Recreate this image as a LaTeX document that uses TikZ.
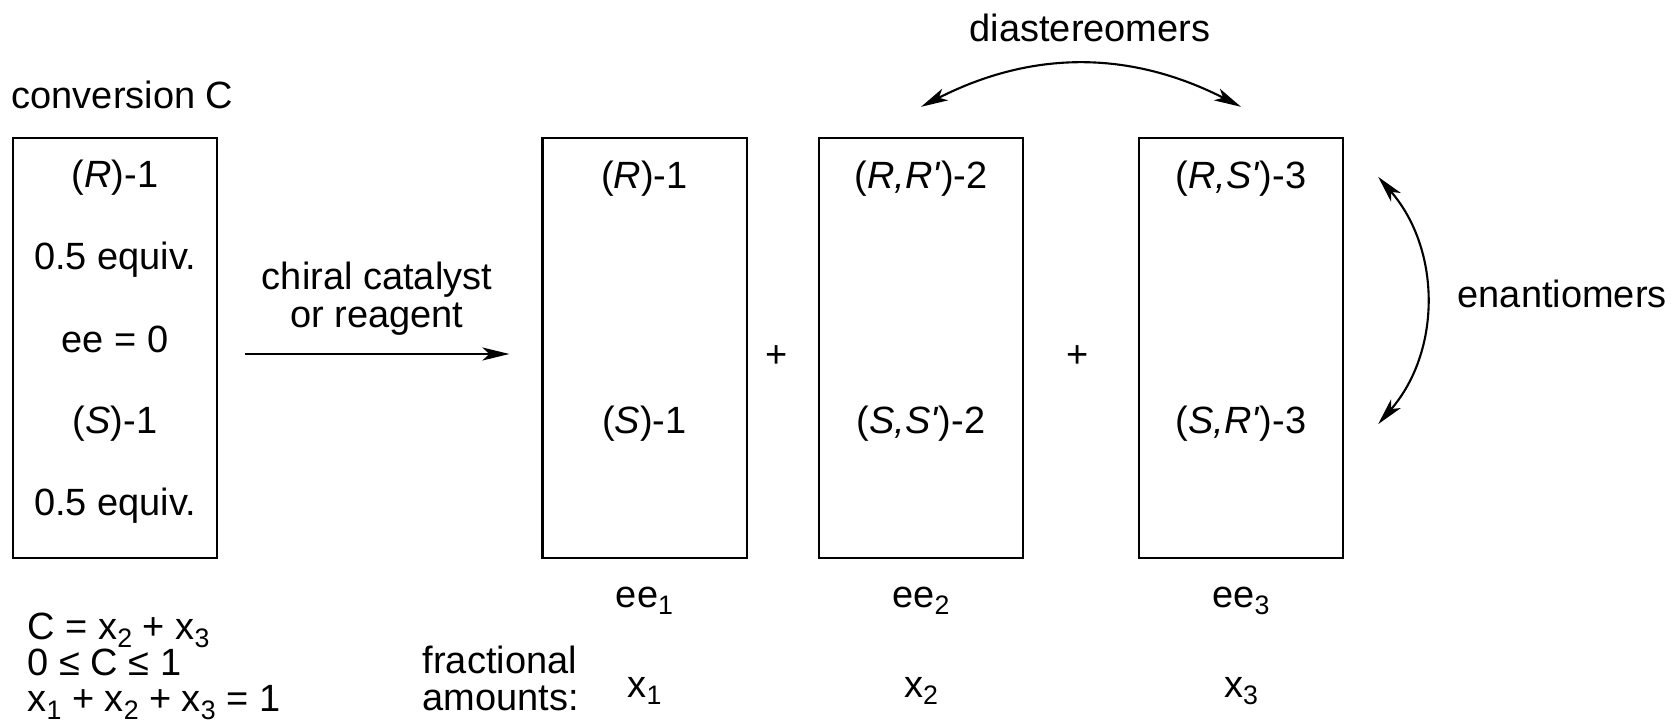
\documentclass[tikz,border=0pt]{standalone}
\usepackage{fontspec}
\setmainfont{Liberation Sans}
\usetikzlibrary{calc,arrows.meta,positioning}
\newcommand{\lowidx}[1]{\raisebox{-0.21em}{\fontsize{7.6}{8}\selectfont#1}}
\newcommand{\pr}{\textquotesingle}
\tikzset{
  cbox/.style={rectangle, draw, line width=0.6pt, minimum width=2.04cm,
               minimum height=4.2cm, inner sep=0pt},
  clabel/.style={anchor=base, inner sep=0pt},
  ctip/.tip={Stealth[length=2.7mm, width=1.3mm, inset=0.7mm]},
  rxn/.style={-ctip, line width=0.6pt},
  isoarc/.style={ctip-ctip, line width=0.6pt},
}
\begin{document}
\begin{tikzpicture}[x=0.01cm, y=-0.01cm, font=\fontsize{10.8}{13}\selectfont]
  \useasboundingbox (0,0) rectangle (1671,728);
  % starting material
  \node[clabel, anchor=base west] (conv) at (11,109) {conversion C};
  \node[cbox] (box1) at (115,348) {};
  \node[clabel] (sR)   at (115,188) {(\textit{R})-1};
  \node[clabel] (sReq) at (115,270) {0.5 equiv.};
  \node[clabel] (see)  at (115,353) {ee = 0};
  \node[clabel] (sS)   at (115,433) {(\textit{S})-1};
  \node[clabel] (sSeq) at (115,515) {0.5 equiv.};
  \node[inner sep=0pt, align=left, anchor=north west,
        font=\fontsize{10.8}{10.2}\selectfont] (eqs) at (27,612.5)
    {C = x\lowidx{2} + x\lowidx{3}\\0 ≤ C ≤ 1\\x\lowidx{1} + x\lowidx{2} + x\lowidx{3} = 1};
  % reaction arrow
  \coordinate (rxnA) at ($(box1.east)+(27,6)$);
  \node[cbox] (box2) at (644.5,348) {};
  \coordinate (rxnB) at ($(box2.west)+(-32,6)$);
  \draw[rxn] (rxnA) -- (rxnB);
  \node[inner sep=0pt, align=center, font=\fontsize{10.8}{10.8}\selectfont] (cat) at (377,299)
    {chiral catalyst\\or reagent};
  % products
  \node[cbox] (box3) at (921,348) {};
  \node[cbox] (box4) at (1241,348) {};
  \node[clabel] (pR)  at (644.5,189) {(\textit{R})-1};
  \node[clabel] (pS)  at (644.5,433) {(\textit{S})-1};
  \node[clabel] (pRR) at (921,189) {(\textit{R,R\pr})-2};
  \node[clabel] (pSS) at (921,433) {(\textit{S,S\pr})-2};
  \node[clabel] (pRS) at (1241,189) {(\textit{R,S\pr})-3};
  \node[clabel] (pSR) at (1241,433) {(\textit{S,R\pr})-3};
  \node[clabel] (plusA) at (777,368) {+};
  \node[clabel] (plusB) at (1078,368) {+};
  % isomer relations
  \coordinate (dA) at ($(box3.north)+(0,-30)$);
  \coordinate (dB) at ($(box4.north)+(0,-30)$);
  \draw[isoarc] (dA) to[bend left=27] (dB);
  \node[clabel] (dia) at (1090,42) {diastereomers};
  \coordinate (eA) at ($(box4.north east)+(34,40)$);
  \coordinate (eB) at ($(box4.south east)+(34,-135)$);
  \draw[isoarc] (eA) to[bend left=41] (eB);
  \node[clabel, anchor=base west] (ena) at (1457,308) {enantiomers};
  % ee and amounts
  \node[clabel] (ee1) at (644.5,607) {ee\lowidx{1}};
  \node[clabel] (ee2) at (921,607) {ee\lowidx{2}};
  \node[clabel] (ee3) at (1241,607) {ee\lowidx{3}};
  \node[inner sep=0pt, align=left, anchor=west, font=\fontsize{10.8}{10.5}\selectfont] (frac)
    at (422,678) {fractional\\amounts:};
  \node[clabel] (xA) at (644.5,697) {x\lowidx{1}};
  \node[clabel] (xB) at (921,697) {x\lowidx{2}};
  \node[clabel] (xC) at (1241,697) {x\lowidx{3}};
\end{tikzpicture}
\end{document}
